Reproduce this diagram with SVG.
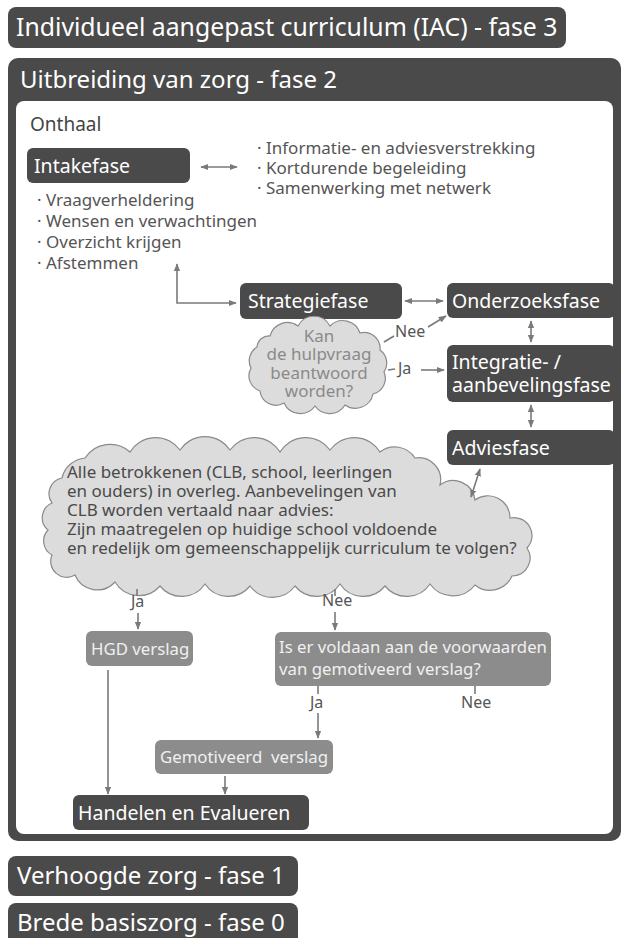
<svg xmlns="http://www.w3.org/2000/svg" width="626" height="938" viewBox="0 0 626 938">
<style>
text{font-family:"Noto Sans","Open Sans",sans-serif}
.dark{fill:#4a4a4a}
.gbox{fill:#8c8c8c}
.wt{fill:#ffffff}
.lt{fill:#f0f0f0;font-size:16.8px}
.big{font-size:24px}
.nd{font-size:19.5px}
.tx{fill:#555;font-size:17px}
.lb{fill:#555;font-size:16px}
.cl{fill:#dcdcdc;stroke:#8a8a8a;stroke-width:1.2}
.ln{fill:none;stroke:#7a7a7a;stroke-width:1.6}
</style>
<defs>
<marker id="ah" viewBox="0 0 10 10" refX="9" refY="5" markerWidth="8" markerHeight="8" markerUnits="userSpaceOnUse" orient="auto-start-reverse"><path d="M0,1 L10,5 L0,9 z" fill="#7a7a7a"/></marker>
</defs>

<g id="fase3"><rect x="8" y="7" width="558" height="41" rx="8" class="dark"/><text x="16" y="36" class="wt" font-size="24.8">Individueel aangepast curriculum (IAC) - fase 3</text></g>

<g id="fase2"><rect x="8" y="58" width="613" height="783" rx="10" class="dark"/><rect x="16" y="101" width="597" height="733" rx="8" fill="#ffffff"/><text x="20" y="88" class="wt big">Uitbreiding van zorg - fase 2</text></g>

<g id="onthaal"><text x="30" y="131" fill="#444" font-size="19">Onthaal</text></g>

<g id="intakefase"><rect x="27" y="148" width="163" height="35" rx="6" class="dark"/><text x="34" y="172.5" class="wt nd">Intakefase</text></g>

<g id="intake-info"><text class="tx" font-size="16.6"><tspan x="257" y="154">· Informatie- en adviesverstrekking</tspan><tspan x="257" y="174">· Kortdurende begeleiding</tspan><tspan x="257" y="194">· Samenwerking met netwerk</tspan></text></g>

<g id="intake-list"><text class="tx"><tspan x="37" y="206">· Vraagverheldering</tspan><tspan x="37" y="227">· Wensen en verwachtingen</tspan><tspan x="37" y="248">· Overzicht krijgen</tspan><tspan x="37" y="269">· Afstemmen</tspan></text></g>

<g id="strategiefase"><rect x="240" y="283" width="162" height="36" rx="6" class="dark"/><text x="248" y="308" class="wt nd">Strategiefase</text></g>

<g id="onderzoeksfase"><rect x="447" y="283" width="168" height="35" rx="6" class="dark"/><text x="452" y="307.5" class="wt nd">Onderzoeksfase</text></g>

<g id="integratiefase"><rect x="447" y="345" width="168" height="57" rx="6" class="dark"/><text class="wt nd"><tspan x="452" y="369">Integratie- /</tspan><tspan x="452" y="392">aanbevelingsfase</tspan></text></g>

<g id="adviesfase"><rect x="447" y="430" width="168" height="35" rx="6" class="dark"/><text x="452" y="454.5" class="wt nd">Adviesfase</text></g>

<g id="vraag-cloud"><path class="cl" d="M270,336 A18,18 0 0 1 298,326 A18,18 0 0 1 330,326 A18,18 0 0 1 360,333 A16,16 0 0 1 380,350 A16,16 0 0 1 384,372 A16,16 0 0 1 373,394 A18,18 0 0 1 345,405 A18,18 0 0 1 315,406 A18,18 0 0 1 284,403 A16,16 0 0 1 260,391 A16,16 0 0 1 251,368 A16,16 0 0 1 257,347 A12,12 0 0 1 270,336 Z"/><text text-anchor="middle" fill="#8a8a8a" font-size="17"><tspan x="319" y="342">Kan</tspan><tspan x="319" y="360">de hulpvraag</tspan><tspan x="319" y="379">beantwoord</tspan><tspan x="319" y="397">worden?</tspan></text></g>

<g id="overleg-cloud"><path class="cl" d="M62,478 A26,26 0 0 1 85,458 A30,30 0 0 1 130,452 A30,30 0 0 1 180,450 A30,30 0 0 1 230,450 A30,30 0 0 1 280,452 A30,30 0 0 1 330,450 A30,30 0 0 1 380,452 A24,24 0 0 1 415,458 A22,22 0 0 1 440,485 A22,22 0 0 1 475,500 A22,22 0 0 1 510,518 A18,18 0 0 1 527,548 A18,18 0 0 1 512,576 A24,24 0 0 1 475,585 A28,28 0 0 1 430,584 A28,28 0 0 1 385,586 A28,28 0 0 1 340,584 A28,28 0 0 1 295,586 A28,28 0 0 1 250,586 A28,28 0 0 1 205,584 A28,28 0 0 1 160,586 A28,28 0 0 1 115,582 A24,24 0 0 1 75,575 A16,16 0 0 1 52,555 A16,16 0 0 1 48,530 A16,16 0 0 1 52,503 A16,16 0 0 1 62,478 Z"/><text fill="#4a4a4a" font-size="17"><tspan x="67" y="478">Alle betrokkenen (CLB, school, leerlingen</tspan><tspan x="67" y="497">en ouders) in overleg. Aanbevelingen van</tspan><tspan x="67" y="516">CLB worden vertaald naar advies:</tspan><tspan x="67" y="535">Zijn maatregelen op huidige school voldoende</tspan><tspan x="67" y="554">en redelijk om gemeenschappelijk curriculum te volgen?</tspan></text></g>

<g id="hgd"><rect x="86" y="631" width="107" height="35" rx="6" class="gbox"/><text x="91" y="654.5" class="lt">HGD verslag</text></g>

<g id="voorwaarden"><rect x="275" y="632" width="276" height="54" rx="6" class="gbox"/><text class="lt"><tspan x="279" y="653">Is er voldaan aan de voorwaarden</tspan><tspan x="279" y="675">van gemotiveerd verslag?</tspan></text></g>

<g id="gemotiveerd"><rect x="155" y="740" width="178" height="34" rx="6" class="gbox"/><text x="160" y="763" class="lt" xml:space="preserve">Gemotiveerd  verslag</text></g>

<g id="handelen"><rect x="73" y="795" width="236" height="35" rx="6" class="dark"/><text x="78" y="819.5" class="wt nd">Handelen en Evalueren</text></g>

<g id="fase1"><rect x="8" y="856" width="290" height="40" rx="8" class="dark"/><text x="17" y="884" class="wt big">Verhoogde zorg - fase 1</text></g>

<g id="fase0"><rect x="8" y="903" width="290" height="42" rx="8" class="dark"/><text x="17" y="931" class="wt big">Brede basiszorg - fase 0</text></g>

<g id="connectors">
<line class="ln" x1="201" y1="167" x2="237" y2="167" marker-start="url(#ah)" marker-end="url(#ah)"/>
<path class="ln" d="M177,264 V303 H236" marker-start="url(#ah)" marker-end="url(#ah)"/>
<line class="ln" x1="405" y1="301" x2="443" y2="301" marker-start="url(#ah)" marker-end="url(#ah)"/>
<line class="ln" x1="531" y1="321" x2="531" y2="342" marker-start="url(#ah)" marker-end="url(#ah)"/>
<line class="ln" x1="531" y1="405" x2="531" y2="427" marker-start="url(#ah)" marker-end="url(#ah)"/>
<line class="ln" x1="480" y1="469" x2="471" y2="497" marker-start="url(#ah)" marker-end="url(#ah)"/>
<line class="ln" x1="384" y1="342" x2="394" y2="336"/>
<text x="395" y="337" class="lb">Nee</text>
<line class="ln" x1="428" y1="327" x2="446" y2="316" marker-end="url(#ah)"/>
<line class="ln" x1="388" y1="370" x2="395" y2="369"/>
<text x="398" y="374" class="lb">Ja</text>
<line class="ln" x1="421" y1="370" x2="444" y2="370" marker-end="url(#ah)"/>
<line class="ln" x1="137" y1="589" x2="137" y2="596"/>
<text x="131" y="607" class="lb">Ja</text>
<line class="ln" x1="138" y1="613" x2="138" y2="629" marker-end="url(#ah)"/>
<line class="ln" x1="335" y1="589" x2="335" y2="596"/>
<text x="322" y="606" class="lb">Nee</text>
<line class="ln" x1="335" y1="612" x2="335" y2="630" marker-end="url(#ah)"/>
<line class="ln" x1="318" y1="686" x2="318" y2="694"/>
<text x="310" y="708" class="lb">Ja</text>
<line class="ln" x1="318" y1="713" x2="318" y2="738" marker-end="url(#ah)"/>
<line class="ln" x1="475" y1="686" x2="475" y2="694"/>
<text x="461" y="708" class="lb">Nee</text>
<line class="ln" x1="108" y1="670" x2="108" y2="794" marker-end="url(#ah)"/>
<line class="ln" x1="225" y1="776" x2="225" y2="794" marker-end="url(#ah)"/>
</g>
</svg>
